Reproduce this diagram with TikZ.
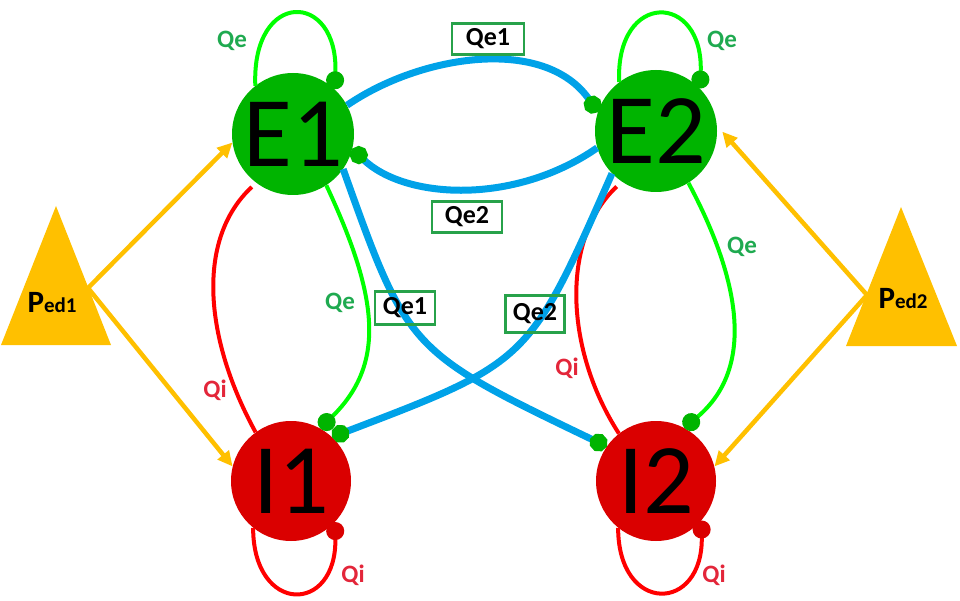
\documentclass[tikz,border=0pt]{standalone}
\usepackage{fontspec}
\setmainfont{Carlito}
\usetikzlibrary{arrows.meta}
\definecolor{egreen}{HTML}{00B400}
\definecolor{ired}{HTML}{DA0000}
\definecolor{qelime}{HTML}{00FF00}
\definecolor{qired}{HTML}{FF0000}
\definecolor{qblue}{HTML}{00A2E8}
\definecolor{pyellow}{HTML}{FFC000}
\definecolor{qetext}{HTML}{1FAA50}
\definecolor{qitext}{HTML}{E3263A}
\definecolor{boxgreen}{HTML}{27A24A}
\begin{document}
\begin{tikzpicture}[x=1pt,y=-1pt]
\tikzset{exc/.style = {circle, fill=egreen, minimum size=122pt, inner sep=0pt, font=\fontsize{100}{100}\selectfont},
inh/.style = {circle, fill=ired, minimum size=120pt, inner sep=0pt, font=\fontsize{100}{100}\selectfont},
qeline/.style = {qelime, line width=4pt, -{Circle[length=18pt,width=18pt,color=egreen]}},
qiloop/.style = {qired, line width=4pt, -{Circle[length=18pt,width=18pt,color=ired]}},
qiline/.style = {qired, line width=4pt},
qbline/.style = {qblue, line width=7pt, -{Circle[length=18pt,width=18pt,color=egreen]}},
pedarrow/.style = {pyellow, line width=4.5pt, -{Triangle[length=15pt,width=14pt]}},
qelabel/.style = {text=qetext, font=\bfseries\fontsize{25}{25}\selectfont},
qilabel/.style = {text=qitext, font=\bfseries\fontsize{25}{25}\selectfont},
qbox/.style = {draw=boxgreen, line width=2.5pt, inner sep=0pt, font=\bfseries\fontsize{26}{26}\selectfont},
pedlabel/.style = {font=\bfseries\fontsize{31}{31}\selectfont}}
\useasboundingbox (0,0) rectangle (960,601);
% populations
\node[exc] (E1) at (293,134) {E1};
\node[exc] (E2) at (656,131) {E2};
\node[inh] (I1) at (291,481) {I1};
\node[inh] (I2) at (656,481) {I2};
% external drive
\fill[pyellow] (56,206) -- (111,345) -- (1,345) -- cycle;
\fill[pyellow] (901,207) -- (957,346) -- (846,346) -- cycle;
\node[pedlabel] (Ped1) at (52,303) {P{\fontsize{21}{21}\selectfont ed1}};
\node[pedlabel] (Ped2) at (903,299) {P{\fontsize{21}{21}\selectfont ed2}};
\coordinate (p1) at (88,288);
\coordinate (p2) at (867,295);
\draw[pedarrow] (p1) -- (E1.188);
\draw[pedarrow] (p1) -- (I1.166);
\draw[pedarrow, shorten >=8pt] (p2) -- (E2.5);
\draw[pedarrow] (p2) -- (I2.14);
% self loops
\draw[qeline] (E1.128) .. controls +(-4,-97) and +(4,-99) .. (E1.47);
\draw[qeline] (E2.127) .. controls +(-4,-92) and +(4,-97) .. (E2.44);
\draw[qiloop] (I1.231) .. controls +(0,87) and +(2,93) .. (I1.317);
\draw[qiloop] (I2.231) .. controls +(0,87) and +(2,93) .. (I2.319);
% local E-I
\draw[qeline] (E1.-57) .. controls (380,300) and (385,365) .. (I1.61);
\draw[qeline] (E2.-58) .. controls (735,270) and (760,365) .. (I2.62);
\draw[qiline, shorten <=6pt] (E1.233) .. controls (195,240) and (205,340) .. (I1.126);
\draw[qiline, shorten <=7pt] (E2.236) .. controls (560,240) and (565,350) .. (I2.128);
% long range
\draw[qbline] (E1.28) .. controls (420,55) and (545,35) .. (E2.162);
\draw[qbline] (E2.196) .. controls (515,205) and (405,200) .. (E1.-14);
\draw[qbline] (E1.-35) .. controls (408,351) .. (I2.145);
\draw[qbline] (E2.224) .. controls (529,362) .. (I1.47);
% labels
\node[qelabel] (lqe1) at (232,41) {Qe};
\node[qelabel] (lqe2) at (722,41) {Qe};
\node[qilabel] (lqi1) at (353,575) {Qi};
\node[qilabel] (lqi2) at (714,575) {Qi};
\node[qelabel] (lqe3) at (340,303) {Qe};
\node[qelabel] (lqe4) at (742,247) {Qe};
\node[qilabel] (lqi3) at (215,390) {Qi};
\node[qilabel] (lqi4) at (567,368) {Qi};
\node[qbox, minimum width=72pt, minimum height=31pt] (bqe1) at (488,39) {Qe1};
\node[qbox, minimum width=70pt, minimum height=31pt] (bqe2) at (467,217) {Qe2};
\node[qbox, minimum width=60pt, minimum height=33pt] (bqe3) at (405,308) {Qe1};
\node[qbox, minimum width=59pt, minimum height=37pt] (bqe4) at (535,314) {Qe2};
\end{tikzpicture}
\end{document}
